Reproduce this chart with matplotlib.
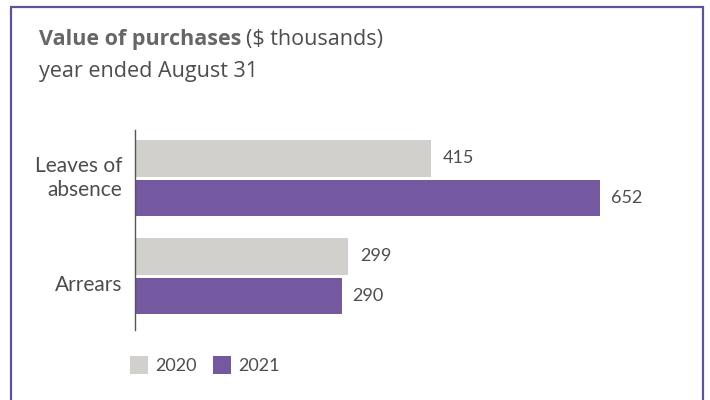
import matplotlib

matplotlib.use("Agg")
import matplotlib.pyplot as plt
from matplotlib.patches import Rectangle
import numpy as np

# ── Dados ───────────────────────────────────────────────
categorias = ["Leaves of\nabsence", "Arrears"]
anos = ["2020", "2021"]
valores_2020 = [415, 299]
valores_2021 = [652, 290]

# ── Cores ───────────────────────────────────────────────
CINZA = "#d1d0cc"
ROXO = "#7459a1"
MOLDURA = "#5e5394"
TEXTO = "#4d4d4d"
TITULO = "#666666"

plt.rcParams["font.family"] = ["Lato", "DejaVu Sans"]
W, H = 710, 400

fig = plt.figure(figsize=(7.1, 4.0), dpi=100)
fig.patches.append(Rectangle((11 / W, -0.05), 692 / W, 1.05 - 7 / H,
                             transform=fig.transFigure, fill=False,
                             edgecolor=MOLDURA, linewidth=1.6))

# Titulo: parte em negrito + parte normal na mesma linha
FAM_TIT = ["Open Sans", "DejaVu Sans"]
t1 = fig.text(39 / W, 1 - 45 / H, "Value of purchases", fontsize=15.5,
              family=FAM_TIT, fontweight="bold", color=TITULO, va="baseline")
fig.canvas.draw()
bb = t1.get_window_extent()
fig.text((bb.x1 + 5) / W, 1 - 45 / H, "($ thousands)", fontsize=15.5,
         family=FAM_TIT, color=TEXTO, va="baseline")
fig.text(39 / W, 1 - 77 / H, "year ended August 31", fontsize=15.5,
         family=FAM_TIT, color=TEXTO, va="baseline")

ax = fig.add_axes([135 / W, 70 / H, 565 / W, 200 / H])
y = np.arange(len(categorias))
h = 0.37
off = 0.2
b1 = ax.barh(y - off, valores_2020, height=h, color=CINZA, label=anos[0])
b2 = ax.barh(y + off, valores_2021, height=h, color=ROXO, label=anos[1])

for yi, v in zip(y - off, valores_2020):
    ax.text(v + 17, yi, f"{v}", va="center", ha="left", fontsize=13, color=TEXTO)
for yi, v in zip(y + off, valores_2021):
    ax.text(v + 15, yi, f"{v}", va="center", ha="left", fontsize=13, color=TEXTO)

ax.set_xlim(0, 565 / 0.713)
ax.set_ylim(1.55, -0.49)
ax.set_yticks([])
ax.set_xticks([])

# Rotulos das categorias (Arrears fica um pouco abaixo do centro do grupo)
desloc_y = [0.0, 0.09]
for yi, nome, d in zip(y, categorias, desloc_y):
    ax.text(-13 / 0.713, yi + d, nome, ha="right", va="center", fontsize=15,
            color=TEXTO, linespacing=1.2)

for lado in ("top", "right", "bottom"):
    ax.spines[lado].set_visible(False)
ax.spines["left"].set_color("#555555")
ax.spines["left"].set_linewidth(1.0)

fig.legend(handles=[b1, b2], loc="center left",
           bbox_to_anchor=(114 / W, 1 - 365 / H), ncol=2, frameon=False,
           fontsize=13, handlelength=1.0, handleheight=1.2,
           handletextpad=0.4, columnspacing=0.9, labelcolor=TEXTO)

fig.savefig("out.png", dpi=100, facecolor="white")
